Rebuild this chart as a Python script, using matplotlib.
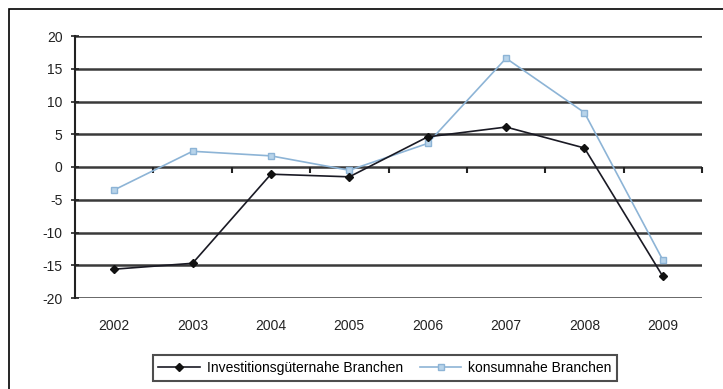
import matplotlib
matplotlib.use("Agg")
import matplotlib.pyplot as plt
from matplotlib.patches import Rectangle
from matplotlib.lines import Line2D

plt.rcParams['font.family'] = ['Liberation Sans', 'DejaVu Sans']
plt.rcParams['axes.unicode_minus'] = False

years = ['2002', '2003', '2004', '2005', '2006', '2007', '2008', '2009']
investition = [-15.6, -14.7, -1.1, -1.5, 4.6, 6.1, 2.9, -16.7]
konsum = [-3.5, 2.4, 1.7, -0.5, 3.6, 16.6, 8.3, -14.2]
yticks = [20, 15, 10, 5, 0, -5, -10, -15, -20]
series_names = ['Investitionsgüternahe Branchen', 'konsumnahe Branchen']

fig = plt.figure(figsize=(7.23, 3.89), dpi=100)
fig.patch.set_facecolor('white')

# outer chart frame
fig.patches.append(Rectangle((9 / 723, -0.05), 1.2, 1 - 9 / 389 + 0.05,
                             transform=fig.transFigure, fill=False,
                             edgecolor='black', linewidth=1.2))

ax = fig.add_axes([75 / 723, 1 - 298 / 389, (702 - 75) / 723, (298 - 36) / 389])
x = list(range(len(years)))

ax.set_xlim(-0.5, len(years) - 0.5)
ax.set_ylim(-20, 20)

for v in yticks:
    ax.axhline(v, color='#3a3a3a', linewidth=1.8, zorder=1)

for s in ['top', 'right', 'bottom']:
    ax.spines[s].set_visible(False)
ax.spines['left'].set_color('#222222')
ax.spines['left'].set_linewidth(1.5)

ax.set_yticks(yticks)
ax.set_yticklabels([str(v) for v in yticks])
ax.tick_params(axis='y', direction='inout', length=6, width=1.2,
               labelsize=10, pad=6, colors='#222222')

ax.set_xticks(x)
ax.set_xticklabels(years)
ax.tick_params(axis='x', length=0, pad=15, labelsize=10, colors='#222222')

# category boundary ticks on the zero line
bounds = [i - 0.5 for i in range(1, len(years) + 1)]
ax.plot(bounds, [0] * len(bounds), linestyle='none', marker=3,
        markersize=4, color='#222222', markeredgewidth=1.5, zorder=2,
        clip_on=False)

ax.plot(x, investition, color='#1a1a24', linewidth=1.2, marker='D',
        markersize=4.5, markerfacecolor='#111111', markeredgecolor='#111111',
        zorder=4)
ax.plot(x, konsum, color='#8db4d6', linewidth=1.2, marker='s',
        markersize=5, markerfacecolor='#b8d4ea', markeredgecolor='#8db4d6',
        zorder=3)

handles = [
    Line2D([], [], color='#1a1a24', linewidth=1.2, marker='D', markersize=4.5,
           markerfacecolor='#111111', markeredgecolor='#111111'),
    Line2D([], [], color='#8db4d6', linewidth=1.2, marker='s', markersize=5,
           markerfacecolor='#b8d4ea', markeredgecolor='#8db4d6'),
]
leg = fig.legend(handles, series_names, ncol=2, loc='center',
                 bbox_to_anchor=(385 / 723, 1 - 368 / 389), frameon=True,
                 fontsize=10, handlelength=3, columnspacing=1.2,
                 borderpad=0.4, fancybox=False, handletextpad=0.5)
leg.get_frame().set_edgecolor('#222222')
leg.get_frame().set_linewidth(1.5)

fig.savefig('out.png', dpi=100, facecolor='white')
